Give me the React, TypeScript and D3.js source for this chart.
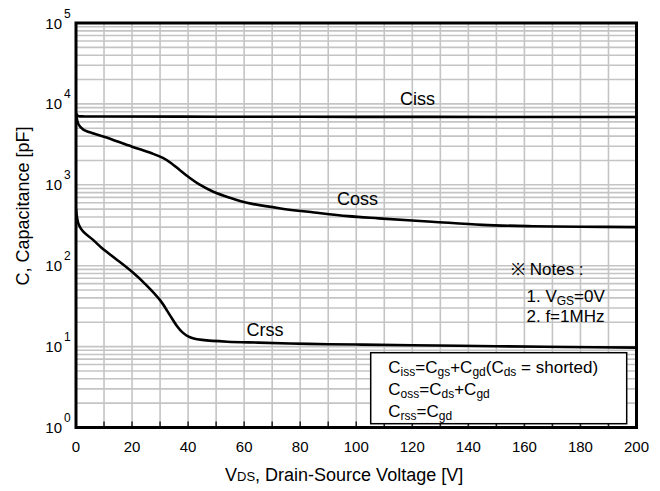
import React from 'react';
import * as d3 from 'd3';

// ---- data ----
const xTickValues = [0, 20, 40, 60, 80, 100, 120, 140, 160, 180, 200];
const yDecades = [0, 1, 2, 3, 4, 5];

const cissV = [0, 0.5, 1, 3, 10, 50, 100, 150, 200];
const cissC = [7600, 7200, 7050, 7000, 6980, 6950, 6920, 6900, 6880];

const cossV = [0, 0.4, 1, 2.5, 6, 10, 20, 27, 31, 34, 37, 40.5, 44, 49, 55, 61, 73, 85, 97, 108, 127, 145, 163, 180, 200];
const cossC = [7600, 6300, 5500, 4850, 4330, 3930, 2960, 2450, 2150, 1850, 1520, 1220, 1010, 820, 690, 600, 510, 455, 410, 385, 350, 320, 308, 303, 300];

const crssV = [0, 0.4, 1, 2.5, 6, 9, 14, 20, 25, 30, 33.5, 36, 38, 40, 42, 45, 54, 65, 83, 100, 120, 150, 175, 200];
const crssC = [500, 390, 320, 265, 210, 168, 123, 84, 58, 37.5, 24.5, 18, 15, 13.4, 12.6, 12.1, 11.5, 11.2, 10.8, 10.6, 10.4, 10.1, 9.9, 9.7];

const curveLabels = ['Ciss', 'Coss', 'Crss'];

const FONT = '"Liberation Sans", Arial, Helvetica, sans-serif';

export default function App() {
  const left = 76, right = 636.5, top = 23, bottom = 427.5;
  const x = d3.scaleLinear().domain([0, 200]).range([left, right]);
  const y = d3.scaleLog().domain([1, 1e5]).range([bottom, top]);

  const line = d3
    .line<[number, number]>()
    .x((d) => x(d[0]))
    .y((d) => y(d[1]))
    .curve(d3.curveCatmullRom.alpha(0.5));

  const zip = (a: number[], b: number[]) => a.map((v, i) => [v, b[i]] as [number, number]);

  const vGrid = d3.range(10, 200, 10);
  const hGrid: number[] = [];
  for (let k = 0; k < 5; k++) {
    for (let m = 1; m <= 9; m++) {
      const v = m * Math.pow(10, k);
      if (v > 1) hGrid.push(v);
    }
  }
  const xMinorTicks = d3.range(10, 200, 10);

  const series = [zip(cissV, cissC), zip(cossV, cossC), zip(crssV, crssC)];
  const labelPos = [
    [400, 105],
    [337, 205],
    [246.5, 336],
  ];

  return (
    <svg
      width={660}
      height={491}
      style={{ position: 'absolute', left: 0, top: 0, background: '#fff' }}
      fontFamily={FONT}
    >
      <rect x={0} y={0} width={660} height={491} fill="#fff" />
      <defs>
        <clipPath id="plot">
          <rect x={left} y={top} width={right - left} height={bottom - top} />
        </clipPath>
      </defs>
      {/* grid */}
      <g stroke="#c4c4c4" strokeWidth={1.6}>
        {vGrid.map((v) => (
          <line key={'v' + v} x1={x(v)} x2={x(v)} y1={top} y2={bottom} />
        ))}
        {hGrid.map((v) => (
          <line key={'h' + v} x1={left} x2={right} y1={y(v)} y2={y(v)} />
        ))}
      </g>
      {/* bottom ticks */}
      <g stroke="#222" strokeWidth={1.5}>
        {xMinorTicks.map((v) => (
          <line key={'t' + v} x1={x(v)} x2={x(v)} y1={bottom} y2={bottom - 6} />
        ))}
      </g>
      {/* curves */}
      <g clipPath="url(#plot)" fill="none" stroke="#000" strokeWidth={2.6} strokeLinejoin="round">
        {series.map((s, i) => (
          <path key={i} d={line(s) || ''} />
        ))}
      </g>
      {/* frame */}
      <rect x={left} y={top} width={right - left} height={bottom - top} fill="none" stroke="#000" strokeWidth={3} />
      {/* curve labels */}
      {curveLabels.map((t, i) => (
        <text key={t} x={labelPos[i][0]} y={labelPos[i][1]} fontSize={18} fill="#000">
          {t}
        </text>
      ))}
      {/* notes */}
      <text x={511} y={275} fontSize={17}>※ Notes :</text>
      <text x={526.5} y={301.5} fontSize={17}>
        1. V<tspan fontSize={12} dy={3}>GS</tspan>
        <tspan dy={-3}>=0V</tspan>
      </text>
      <text x={526.5} y={321.5} fontSize={17}>2. f=1MHz</text>
      {/* legend box */}
      <rect x={370.7} y={352.7} width={256} height={71} fill="#fff" stroke="#000" strokeWidth={1.5} />
      <text x={388.3} y={373.3} fontSize={17}>
        C<tspan fontSize={12} dy={3}>iss</tspan>
        <tspan dy={-3}>=C</tspan>
        <tspan fontSize={12} dy={3}>gs</tspan>
        <tspan dy={-3}>+C</tspan>
        <tspan fontSize={12} dy={3}>gd</tspan>
        <tspan dy={-3}>(C</tspan>
        <tspan fontSize={12} dy={3}>ds</tspan>
        <tspan dy={-3}> = shorted)</tspan>
      </text>
      <text x={388.3} y={395} fontSize={17}>
        C<tspan fontSize={12} dy={3}>oss</tspan>
        <tspan dy={-3}>=C</tspan>
        <tspan fontSize={12} dy={3}>ds</tspan>
        <tspan dy={-3}>+C</tspan>
        <tspan fontSize={12} dy={3}>gd</tspan>
      </text>
      <text x={388.3} y={416.8} fontSize={17}>
        C<tspan fontSize={12} dy={3}>rss</tspan>
        <tspan dy={-3}>=C</tspan>
        <tspan fontSize={12} dy={3}>gd</tspan>
      </text>
      {/* x tick labels */}
      {xTickValues.map((v) => (
        <text key={'xl' + v} x={x(v)} y={452} fontSize={15} textAnchor="middle">
          {v}
        </text>
      ))}
      {/* y tick labels */}
      {yDecades.map((k) => {
        const yy = y(Math.pow(10, k));
        return (
          <g key={'yl' + k}>
            <text x={62} y={yy + 5.5} fontSize={15} textAnchor="end">10</text>
            <text x={64} y={yy - 5.5} fontSize={12}>{k}</text>
          </g>
        );
      })}
      {/* axis titles */}
      <text x={225} y={481} fontSize={18}>
        V<tspan fontSize={13}>DS</tspan>, Drain-Source Voltage [V]
      </text>
      <text transform="translate(29,206) rotate(-90)" fontSize={18} textAnchor="middle">
        C, Capacitance [pF]
      </text>
    </svg>
  );
}
